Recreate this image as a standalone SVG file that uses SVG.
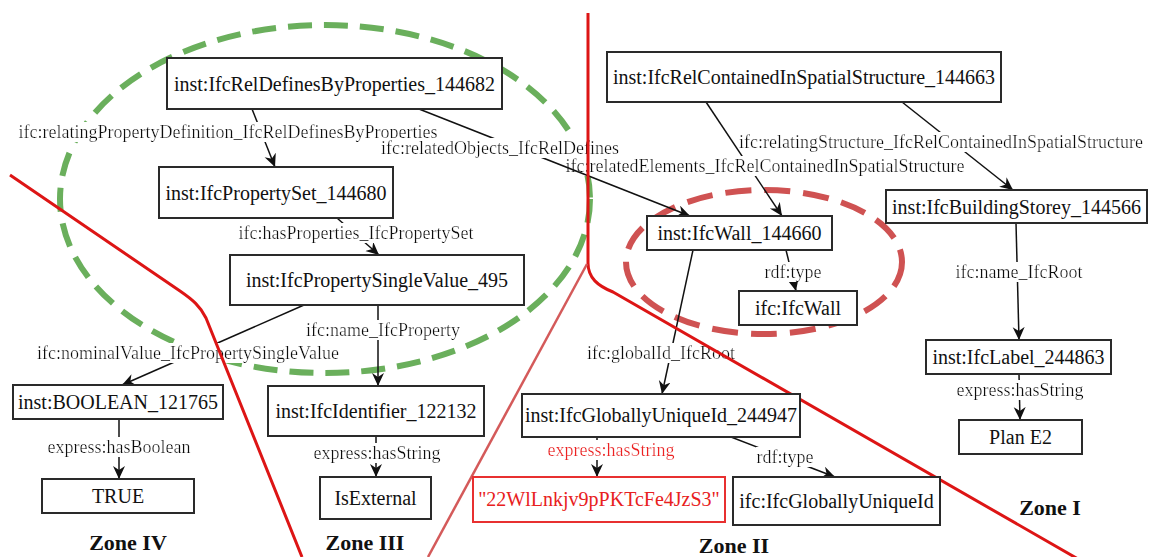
<svg xmlns="http://www.w3.org/2000/svg" width="1153" height="557" viewBox="0 0 1153 557">
  <style>
    .node rect { fill: #ffffff; stroke: #2a2a2a; stroke-width: 2; }
    .node text { font-family: "Liberation Serif", "Times New Roman", serif; font-size: 20px; fill: #111111; text-anchor: middle; }
    .node.hl rect { stroke: #e83030; }
    .node.hl text { fill: #e82020; }
    .edge line { stroke: #111111; stroke-width: 1.5; marker-end: url(#arrow); }
    .edge text { font-family: "Liberation Serif", "Times New Roman", serif; font-size: 18px; fill: #111111; text-anchor: middle; filter: url(#labelbg); }
    .edge text.hl { fill: #ee2222; }
    .zone { fill: none; stroke: #dd1515; stroke-width: 3; stroke-linejoin: round; }
    .zone.thin { stroke: #d45a5a; stroke-width: 2.5; }
    .group-green { fill: none; stroke: #6aaf5c; stroke-width: 6; stroke-dasharray: 24 12; }
    .group-red { fill: none; stroke: #cf5252; stroke-width: 6; stroke-dasharray: 26 13; }
    .zone-label { font-family: "Liberation Serif", "Times New Roman", serif; font-size: 22px; font-weight: bold; fill: #111111; text-anchor: middle; }
  </style>
  <defs>
    <marker id="arrow" markerUnits="userSpaceOnUse" markerWidth="15" markerHeight="14" refX="13" refY="6" orient="auto">
      <path d="M0,0 L13,6 L0,12 L4,6 z" fill="#111111"/>
    </marker>
    <filter id="labelbg" x="0" y="0" width="1" height="1">
      <feFlood flood-color="#ffffff"/>
      <feComposite in="SourceGraphic" operator="over"/>
    </filter>
  </defs>

  <rect width="1153" height="557" fill="#ffffff"/>

  <!-- grouping ellipses -->
  <ellipse class="group-green" cx="325" cy="199" rx="265" ry="174"/>
  <ellipse class="group-red" cx="764" cy="262" rx="138" ry="72"/>

  <!-- connectors -->
  <g id="connectors">
    <g class="edge">
      <line x1="252" y1="109" x2="275" y2="167"/>
      <text x="228" y="138">ifc:relatingPropertyDefinition_IfcRelDefinesByProperties</text>
    </g>
    <g class="edge">
      <line x1="337" y1="218" x2="379" y2="255"/>
      <text x="356" y="239">ifc:hasProperties_IfcPropertySet</text>
    </g>
    <g class="edge">
      <line x1="304" y1="305" x2="122" y2="385"/>
      <text x="188" y="359">ifc:nominalValue_IfcPropertySingleValue</text>
    </g>
    <g class="edge">
      <line x1="378" y1="305" x2="378" y2="386"/>
      <text x="383" y="336">ifc:name_IfcProperty</text>
    </g>
    <g class="edge">
      <line x1="119" y1="419" x2="119" y2="479"/>
      <text x="119" y="453">express:hasBoolean</text>
    </g>
    <g class="edge">
      <line x1="376" y1="436" x2="376" y2="477"/>
      <text x="377" y="459">express:hasString</text>
    </g>
    <g class="edge">
      <line x1="902" y1="102" x2="1013" y2="190"/>
      <text x="941" y="148">ifc:relatingStructure_IfcRelContainedInSpatialStructure</text>
    </g>
    <g class="edge">
      <line x1="706" y1="102" x2="782" y2="216"/>
      <text x="765" y="172">ifc:relatedElements_IfcRelContainedInSpatialStructure</text>
    </g>
    <g class="edge">
      <line x1="419" y1="109" x2="690" y2="216"/>
      <text x="500" y="154">ifc:relatedObjects_IfcRelDefines</text>
    </g>
    <g class="edge">
      <line x1="786" y1="250" x2="796" y2="291"/>
      <text x="793" y="278">rdf:type</text>
    </g>
    <g class="edge">
      <line x1="1016" y1="223" x2="1019" y2="340"/>
      <text x="1019" y="278">ifc:name_IfcRoot</text>
    </g>
    <g class="edge">
      <line x1="1019" y1="374" x2="1020" y2="420"/>
      <text x="1020" y="396">express:hasString</text>
    </g>
    <g class="edge">
      <line x1="693" y1="250" x2="662" y2="394"/>
      <text x="661" y="359">ifc:globalId_IfcRoot</text>
    </g>
    <g class="edge">
      <line x1="597" y1="437" x2="597" y2="477"/>
      <text class="hl" x="611" y="456">express:hasString</text>
    </g>
    <g class="edge">
      <line x1="731" y1="437" x2="835" y2="477"/>
      <text x="785" y="463">rdf:type</text>
    </g>
  </g>

  <!-- zone boundaries -->
  <path class="zone" d="M10,175 L180,291 C193,300 200,306 206,318 L302,557"/>
  <path class="zone" d="M588,13 L588,263 C588,278 598,286 613,292 L1085,563"/>
  <path class="zone thin" d="M587,264 L428,557"/>

  <!-- nodes -->
  <g id="n-reldefines" class="node"><rect x="167" y="58" width="335" height="51"/><text x="334.5" y="91">inst:IfcRelDefinesByProperties_144682</text></g>
  <g id="n-propertyset" class="node"><rect x="159" y="167" width="234" height="51"/><text x="276" y="200">inst:IfcPropertySet_144680</text></g>
  <g id="n-singlevalue" class="node"><rect x="230" y="255" width="294" height="50"/><text x="377" y="287">inst:IfcPropertySingleValue_495</text></g>
  <g id="n-boolean" class="node"><rect x="13" y="385" width="210" height="34"/><text x="118" y="409">inst:BOOLEAN_121765</text></g>
  <g id="n-true" class="node"><rect x="42" y="479" width="152" height="34"/><text x="118" y="503">TRUE</text></g>
  <g id="n-identifier" class="node"><rect x="268" y="386" width="216" height="50"/><text x="376" y="418">inst:IfcIdentifier_122132</text></g>
  <g id="n-isexternal" class="node"><rect x="320" y="477" width="111" height="42"/><text x="375.5" y="505">IsExternal</text></g>
  <g id="n-relcontained" class="node"><rect x="607" y="52" width="394" height="50"/><text x="804" y="84">inst:IfcRelContainedInSpatialStructure_144663</text></g>
  <g id="n-wall" class="node"><rect x="647" y="216" width="185" height="34"/><text x="739.5" y="240">inst:IfcWall_144660</text></g>
  <g id="n-storey" class="node"><rect x="886" y="190" width="261" height="33"/><text x="1016.5" y="214">inst:IfcBuildingStorey_144566</text></g>
  <g id="n-walltype" class="node"><rect x="739" y="291" width="118" height="34"/><text x="798" y="315">ifc:IfcWall</text></g>
  <g id="n-label" class="node"><rect x="926" y="340" width="185" height="34"/><text x="1018.5" y="364">inst:IfcLabel_244863</text></g>
  <g id="n-plan" class="node"><rect x="959" y="420" width="123" height="34"/><text x="1020.5" y="444">Plan E2</text></g>
  <g id="n-guid" class="node"><rect x="522" y="394" width="278" height="43"/><text x="661" y="422">inst:IfcGloballyUniqueId_244947</text></g>
  <g id="n-guidvalue" class="node hl"><rect x="473" y="477" width="252" height="45"/><text x="599" y="506">"22WlLnkjv9pPKTcFe4JzS3"</text></g>
  <g id="n-guidtype" class="node"><rect x="733" y="477" width="207" height="48"/><text x="836.5" y="508">ifc:IfcGloballyUniqueId</text></g>

  <!-- zone captions -->
  <text class="zone-label" x="1050" y="515">Zone I</text>
  <text class="zone-label" x="734" y="553">Zone II</text>
  <text class="zone-label" x="365" y="550">Zone III</text>
  <text class="zone-label" x="128" y="550">Zone IV</text>
</svg>
